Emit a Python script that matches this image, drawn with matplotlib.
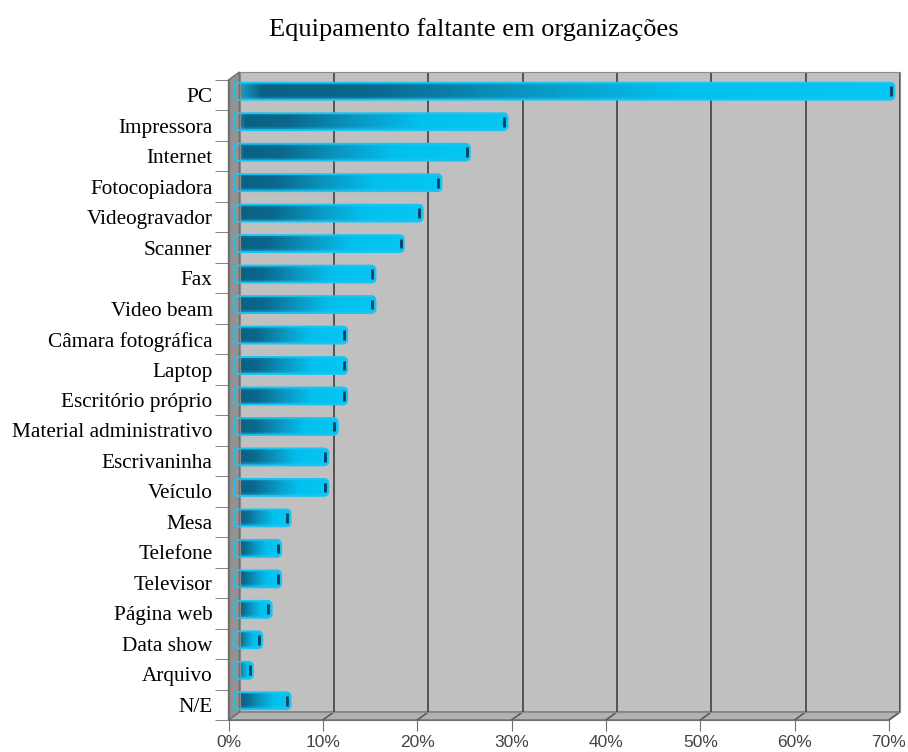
import numpy as np
import matplotlib.pyplot as plt
from matplotlib.colors import LinearSegmentedColormap
from matplotlib.patches import FancyBboxPatch, Polygon
from matplotlib.transforms import offset_copy, IdentityTransform
from matplotlib.ticker import PercentFormatter, FixedLocator

categorias = ['PC', 'Impressora', 'Internet', 'Fotocopiadora', 'Videogravador',
              'Scanner', 'Fax', 'Video beam', 'Câmara fotográfica', 'Laptop',
              'Escritório próprio', 'Material administrativo', 'Escrivaninha',
              'Veículo', 'Mesa', 'Telefone', 'Televisor', 'Página web',
              'Data show', 'Arquivo', 'N/E']
valores = [70, 29, 25, 22, 20, 18, 15, 15, 12, 12, 12, 11, 10, 10, 6, 5, 5, 4, 3, 2, 6]
ticks_x = np.arange(0, 71, 10)

W, H = 908, 752
fig = plt.figure(figsize=(W / 100, H / 100), dpi=100)

# parede do fundo (em pixels) e profundidade do efeito 3D
esq, dir_, topo, base = 239.5, 900, 72, 712
dx, dy = 11, 8
n = len(categorias)

ax = fig.add_axes([esq / W, 1 - base / H, (dir_ - esq) / W, (base - topo) / H])
ax.set_facecolor('#c0c0c0')
ax.set_xticks(ticks_x)
ax.grid(axis='x', color='#4a4a4a', lw=1.3)
ax.tick_params(left=False, bottom=False, labelleft=False, labelbottom=False)
for s in ax.spines.values():
    s.set_color('#8a8a8a')
ax.set_xlim(0, 70)
ax.set_ylim(n - 0.5, -0.5)

meio = offset_copy(ax.transData, fig, x=-dx / 2, y=-dy / 2, units='dots')

# chão e parede esquerda
td = ax.transData
def frente(p):
    return (p[0] - dx, p[1] - dy)

b0 = td.transform((0, n - 0.5)); b1 = td.transform((70, n - 0.5))
t0 = td.transform((0, -0.5))
chao = Polygon([b0, b1, frente(b1), frente(b0)], closed=True, transform=IdentityTransform(),
               fc='#b2b2b2', ec='#6e6e6e', lw=1, clip_on=False, zorder=1)
ax.add_patch(chao)
parede = Polygon([t0, b0, frente(b0), frente(t0)], closed=True, transform=IdentityTransform(),
                 fc='#929292', ec='#6e6e6e', lw=1, clip_on=False, zorder=1)
ax.add_patch(parede)
for t in ticks_x[1:]:
    p = td.transform((t, n - 0.5))
    ax.plot([p[0], p[0] - dx], [p[1], p[1] - dy], transform=IdentityTransform(),
            color='#5a5a5a', lw=1.2, clip_on=False, zorder=1.5)

# barras com degradê
cores = ['#1fa8d0', '#0a6184', '#0a688c', '#0a98c2', '#02c0ee', '#06c6f4']
pos = [0.0, 0.04, 0.2, 0.45, 0.68, 1.0]
cmap = LinearSegmentedColormap.from_list('barra', list(zip(pos, cores)))
horiz = cmap(np.linspace(0, 1, 256))[:, :3]
ciano = np.array([0.1, 0.78, 0.96])
vert = np.linspace(0, 1, 40)
borda = np.clip(1 - np.minimum(vert, 1 - vert) / 0.2, 0, 1)[:, None, None] * 0.6
img = horiz[None, :, :] * (1 - borda) + borda * ciano[None, None, :]
img = np.clip(img, 0, 1)

px_x = (dir_ - esq) / 70
px_y = (base - topo) / n
r = 4.5 / px_x
asp = px_x / px_y
h = 0.56
for i, v in enumerate(valores):
    caixa = FancyBboxPatch((0, i - h / 2), v, h, boxstyle=f'round,pad=0,rounding_size={r}',
                           mutation_aspect=asp, transform=meio, fc='none', ec='#1cc4f2',
                           lw=1.3, clip_on=False, zorder=3)
    ax.add_patch(caixa)
    im = ax.imshow(img, extent=(0, v, i + h / 2, i - h / 2), aspect='auto',
                   transform=meio, zorder=2.5, interpolation='bilinear')
    im.set_clip_path(caixa)
    ax.vlines(v - 0.35, i - 0.16, i + 0.16, transform=meio, color='#0b3f5c', lw=2, zorder=4)

ax.set_xlim(0, 70)
ax.set_ylim(n - 0.5, -0.5)

# eixo da frente com rótulos
axf = fig.add_axes([(esq - dx) / W, 1 - (base + dy) / H, (dir_ - esq) / W, (base - topo) / H])
axf.patch.set_alpha(0)
axf.set_xlim(0, 70)
axf.set_ylim(n - 0.5, -0.5)
for s in ['top', 'right']:
    axf.spines[s].set_visible(False)
axf.spines['left'].set_color('#6e6e6e')
axf.spines['bottom'].set_color('#6e6e6e')
axf.set_xticks(ticks_x)
axf.xaxis.set_major_formatter(PercentFormatter(decimals=0))
axf.set_yticks(range(n))
axf.set_yticklabels(categorias, family='Liberation Serif', fontsize=15.3)
axf.yaxis.set_minor_locator(FixedLocator(np.arange(-0.5, n, 1)))
axf.tick_params(axis='y', which='major', length=0, pad=11.5)
axf.tick_params(axis='y', which='minor', length=10, color='#6e6e6e')
axf.tick_params(axis='x', length=8, color='#6e6e6e', labelsize=12.5, labelcolor='#444444', pad=3)
for lbl in axf.get_xticklabels():
    lbl.set_family('Liberation Sans')

fig.text(474 / W, 1 - 30 / H, 'Equipamento faltante em organizações', ha='center', va='center',
         family='Liberation Serif', fontsize=19)

fig.savefig('out.png', dpi=100)
